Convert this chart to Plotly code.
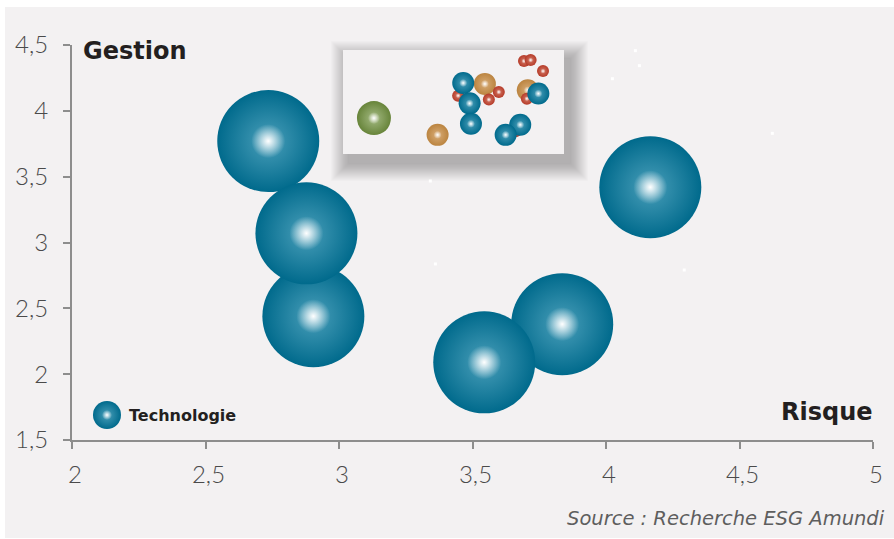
import plotly.graph_objects as go

# ---------------- data ----------------
sector_name = "Technologie"
tech_x = [2.735, 2.904, 2.878, 3.836, 3.544, 4.166]
tech_y = [3.77, 2.44, 3.07, 2.38, 2.09, 3.42]

x_ticks = [2, 2.5, 3, 3.5, 4, 4.5, 5]
x_ticktext = ["2", "2,5", "3", "3,5", "4", "4,5", "5"]
y_ticks = [1.5, 2, 2.5, 3, 3.5, 4, 4.5]
y_ticktext = ["1,5", "2", "2,5", "3", "3,5", "4", "4,5"]

# small white specks visible in the picture
speck_x = [4.110, 4.125, 4.024, 4.623, 3.342, 3.361, 4.293]
speck_y = [4.457, 4.343, 4.244, 3.829, 3.467, 2.837, 2.791]

# inset (all sectors thumbnail), arbitrary 0-100 scale
inset_orange_x = [42.8, 64.2, 83.6]
inset_orange_y = [18.4, 67.4, 61.3]
inset_red_x = [52.1, 66.0, 70.5, 81.9, 84.9, 90.5, 83.2, 78.1]
inset_red_y = [56.1, 52.3, 59.6, 89.4, 90.3, 79.7, 53.2, 21.9]
inset_blue_x = [54.4, 57.3, 57.9, 80.2, 73.6, 88.4]
inset_blue_y = [68.3, 48.7, 29.0, 28.1, 18.4, 58.1]
inset_green_x = [14.0]
inset_green_y = [34.5]

# ---------------- styles ----------------
W, H = 894, 539
ML, MR, MT, MB = 72, 21, 45, 99
PW, PH = W - ML - MR, H - MT - MB

def px_x(p):  # pixel -> paper x
    return (p - ML) / PW

def px_y(p):  # pixel -> paper y
    return (H - MB - p) / PH

BLUE = "#006a8c"
BLUE_MID = "#4a9fba"
PANEL = "#f3f1f2"
AXIS = "#8d8d8d"
TICKFONT = dict(family="Lato", size=24, color="#4a4a4a", weight=300)
BOLD = "DejaVu Sans"

fig = go.Figure()

def bubble(x, y, size, color, mid, xaxis="x", yaxis="y"):
    fig.add_trace(go.Scatter(
        x=x, y=y, mode="markers", xaxis=xaxis, yaxis=yaxis,
        showlegend=False, hoverinfo="skip",
        marker=dict(size=size, color=color, line=dict(width=0),
                    gradient=dict(type="radial", color=mid)),
    ))

def highlight(x, y, size, xaxis="x", yaxis="y"):
    fig.add_trace(go.Scatter(
        x=x, y=y, mode="markers", xaxis=xaxis, yaxis=yaxis,
        showlegend=False, hoverinfo="skip",
        marker=dict(size=size, color="rgba(255,255,255,0)", line=dict(width=0),
                    gradient=dict(type="radial", color="rgba(255,255,255,1)")),
    ))

# main bubbles: each with its highlight so overlaps stack correctly
for i in range(len(tech_x)):
    bubble([tech_x[i]], [tech_y[i]], 102, BLUE, BLUE_MID)
    highlight([tech_x[i]], [tech_y[i]], 34)

# specks
fig.add_trace(go.Scatter(x=speck_x, y=speck_y, mode="markers", showlegend=False,
                         hoverinfo="skip",
                         marker=dict(symbol="square", size=3, color="white", line=dict(width=0))))

# inset bubbles
def inset_group(xs, ys, size, color, mid, hl):
    for i in range(len(xs)):
        bubble([xs[i]], [ys[i]], size, color, mid, xaxis="x2", yaxis="y2")
        highlight([xs[i]], [ys[i]], hl, xaxis="x2", yaxis="y2")

inset_group(inset_orange_x, inset_orange_y, 22, "#bb8440", "#d9ad78", 8)
inset_group(inset_red_x, inset_red_y, 12, "#b53a28", "#d47a68", 5)
inset_group(inset_blue_x, inset_blue_y, 22, BLUE, BLUE_MID, 8)
inset_group(inset_green_x, inset_green_y, 34, "#67843a", "#a5bb84", 12)

# legend glyph on overlay axes (0-1 scale)
leg_x = [px_x(107)]
leg_y = [px_y(415)]
bubble(leg_x, leg_y, 28, BLUE, BLUE_MID, xaxis="x3", yaxis="y3")
highlight(leg_x, leg_y, 10, xaxis="x3", yaxis="y3")

# ---------------- layout ----------------
inset_dom_x = [px_x(343), px_x(564)]
inset_dom_y = [px_y(154), px_y(50)]
iw, ih = 564 - 343, 154 - 50

shapes = [
    dict(type="rect", xref="paper", yref="paper", layer="below",
         x0=px_x(5), x1=px_x(894), y0=px_y(538), y1=px_y(7),
         fillcolor=PANEL, line=dict(width=0)),
]
# inset drop shadow (soft)
ox, oy = 6, 9
for k in range(24, 0, -1):
    shapes.append(dict(type="rect", xref="x2 domain", yref="y2 domain", layer="below",
                       x0=(-k * 0.75 + ox) / iw, x1=1 + (k * 0.75 + ox) / iw,
                       y0=-(k * 0.75 + oy) / ih, y1=1 + (k * 0.75 - oy) / ih,
                       fillcolor="rgba(40,40,40,0.017)", line=dict(width=0)))
shapes.append(dict(type="rect", xref="x2 domain", yref="y2 domain", layer="below",
                   x0=0, x1=1, y0=0, y1=1, fillcolor="white", line=dict(width=0)))

annotations = [
    dict(text="<b>Gestion</b>", xref="paper", yref="paper", x=px_x(81), y=px_y(51),
         xanchor="left", yanchor="middle", showarrow=False,
         font=dict(family=BOLD, size=24, color="#231f20")),
    dict(text="<b>Risque</b>", xref="paper", yref="paper", x=px_x(875), y=px_y(412),
         xanchor="right", yanchor="middle", showarrow=False,
         font=dict(family=BOLD, size=24, color="#231f20")),
    dict(text="<b>" + sector_name + "</b>", xref="paper", yref="paper", x=px_x(127), y=px_y(415),
         xanchor="left", yanchor="middle", showarrow=False,
         font=dict(family=BOLD, size=16, color="#231f20")),
    dict(text="Source : Recherche ESG Amundi", xref="paper", yref="paper",
         x=px_x(887), y=px_y(518), xanchor="right", yanchor="middle", showarrow=False,
         font=dict(family="DejaVu Sans", size=19.5, color="#5e5e5e", style="italic")),
]

fig.update_layout(
    width=W, height=H,
    margin=dict(l=ML, r=MR, t=MT, b=MB, pad=0),
    paper_bgcolor="white", plot_bgcolor=PANEL,
    showlegend=False,
    shapes=shapes, annotations=annotations,
    xaxis=dict(range=[2, 5], tickvals=x_ticks, ticktext=x_ticktext,
               showgrid=False, zeroline=False, showline=True, linecolor=AXIS, linewidth=2,
               ticks="outside", ticklen=7, tickwidth=2, tickcolor=AXIS,
               tickfont=TICKFONT, ticklabelstandoff=5, ticklabelshift=3),
    yaxis=dict(range=[1.5, 4.5], tickvals=y_ticks, ticktext=y_ticktext,
               showgrid=False, zeroline=False, showline=True, linecolor=AXIS, linewidth=2,
               ticks="outside", ticklen=7, tickwidth=2, tickcolor=AXIS,
               tickfont=TICKFONT, ticklabelstandoff=10),
    xaxis2=dict(domain=inset_dom_x, range=[0, 100], anchor="y2", visible=False),
    yaxis2=dict(domain=inset_dom_y, range=[0, 100], anchor="x2", visible=False),
    xaxis3=dict(overlaying="x", range=[0, 1], anchor="y3", visible=False),
    yaxis3=dict(overlaying="y", range=[0, 1], anchor="x3", visible=False),
)

fig.write_html("out.html")
